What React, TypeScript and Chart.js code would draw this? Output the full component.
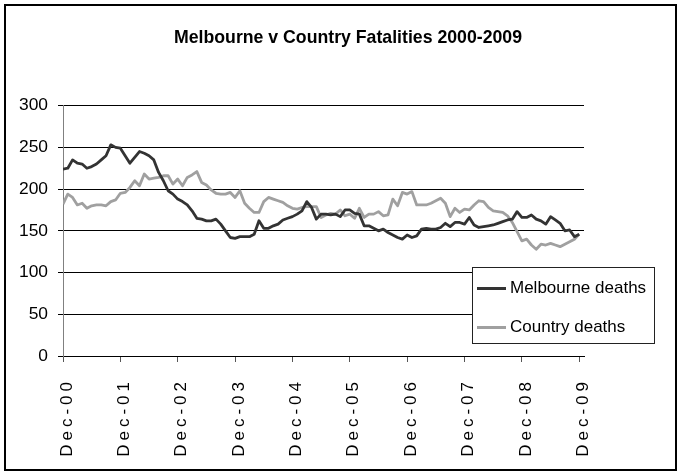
import React, { useEffect, useRef } from 'react';
import { Chart, registerables } from 'chart.js';

Chart.register(...registerables);

const chartTitle = 'Melbourne v Country Fatalities 2000-2009';
const tickLabels = ['Dec-00', 'Dec-01', 'Dec-02', 'Dec-03', 'Dec-04', 'Dec-05', 'Dec-06', 'Dec-07', 'Dec-08', 'Dec-09'];
const yTicks = [0, 50, 100, 150, 200, 250, 300];
const seriesNames = ['Melbourne deaths', 'Country deaths'];

// monthly rolling values, Dec-00 .. Dec-09 (109 months)
const melbourne = [
  224, 225, 235, 231, 230, 225, 227, 230, 235, 240,
  253, 250, 249, 240, 231, 238, 245, 243, 240, 235,
  220, 210, 198, 194, 188, 185, 181, 174, 165, 164,
  162, 162, 164, 158, 150, 142, 141, 143, 143, 143,
  146, 162, 153, 153, 156, 158, 163, 165, 167, 170,
  174, 185, 178, 164, 170, 170, 169, 170, 167, 175,
  175, 171, 170, 156, 156, 153, 150, 152, 148, 145,
  142, 140, 145, 142, 144, 152, 153, 152, 152, 154,
  159, 155, 160, 160, 158, 166, 157, 154, 155, 156,
  157, 159, 161, 163, 164, 173, 166, 166, 169, 164,
  162, 158, 167, 163, 159, 150, 151, 143, 146,
];
const country = [
  182, 194, 190, 181, 183, 177, 180, 181, 181, 180,
  185, 187, 195, 196, 202, 210, 204, 218, 212, 213,
  214, 216, 216, 206, 212, 204, 214, 217, 221, 208,
  205, 199, 195, 194, 194, 196, 190, 198, 183, 177,
  172, 172, 185, 190, 188, 186, 184, 180, 177, 176,
  178, 179, 179, 179, 166, 169, 171, 170, 175, 168,
  170, 165, 177, 166, 170, 170, 173, 168, 169, 188,
  180, 196, 194, 197, 181, 181, 181, 183, 186, 189,
  183, 167, 177, 172, 176, 175, 181, 186, 185, 178,
  174, 173, 172, 168, 160, 149, 138, 140, 133, 128,
  134, 133, 135, 133, 131, 134, 137, 140, 146,
];

const FONT = "'Liberation Sans', Arial, sans-serif";

const decorPlugin = {
  id: 'decor',
  afterDatasetsDraw(chart: any) {
    (chart.ctx as any).letterSpacing = '4px';
  },
  afterDraw(chart: any) {
    const ctx = chart.ctx as any;
    ctx.letterSpacing = '0px';
    ctx.save();
    // outer frame
    ctx.strokeStyle = '#000';
    ctx.lineWidth = 2;
    ctx.strokeRect(5, 5, 671, 465);
    // legend box
    const bx = 472, by = 267, bw = 182, bh = 76;
    ctx.fillStyle = '#fff';
    ctx.fillRect(bx, by, bw, bh);
    ctx.strokeStyle = '#222';
    ctx.lineWidth = 1;
    ctx.strokeRect(bx + 0.5, by + 0.5, bw, bh);
    const rows = [288.5, 327.5];
    chart.data.datasets.forEach((ds: any, i: number) => {
      const y = rows[i];
      ctx.strokeStyle = ds.borderColor;
      ctx.lineWidth = 3;
      ctx.beginPath();
      ctx.moveTo(477, y);
      ctx.lineTo(506, y);
      ctx.stroke();
      ctx.fillStyle = '#000';
      ctx.font = `17px ${FONT}`;
      ctx.textBaseline = 'middle';
      ctx.textAlign = 'left';
      ctx.fillText(ds.label, 510, y);
    });
    ctx.restore();
  },
};

export default function App() {
  const ref = useRef<HTMLCanvasElement>(null);
  useEffect(() => {
    if (!ref.current) return;
    const chart = new Chart(ref.current, {
      type: 'line',
      data: {
        datasets: [
          {
            label: seriesNames[0],
            data: melbourne.map((v, i) => ({ x: i, y: v })),
            borderColor: '#333333',
            borderWidth: 2.8,
            pointRadius: 0,
            tension: 0,
            borderJoinStyle: 'round',
            yAxisID: 'y',
          },
          {
            label: seriesNames[1],
            data: country.map((v, i) => ({ x: i, y: v })),
            borderColor: '#a0a0a0',
            borderWidth: 2.8,
            pointRadius: 0,
            tension: 0,
            borderJoinStyle: 'round',
            yAxisID: 'y',
          },
        ],
      },
      options: {
        responsive: false,
        animation: false,
        devicePixelRatio: 1,
        layout: { padding: { left: 14, right: 0, top: 0, bottom: 0 } },
        plugins: {
          legend: { display: false },
          tooltip: { enabled: false },
          title: {
            display: true,
            text: chartTitle,
            color: '#000',
            font: { family: FONT, size: 17.7, weight: 'bold' },
            padding: { top: 27.4, bottom: 57 },
          },
        },
        scales: {
          x: {
            type: 'linear',
            min: 0,
            max: 109,
            afterBuildTicks: (s: any) => {
              s.ticks = tickLabels.map((_, i) => ({ value: i * 12 }));
            },
            afterFit: (s: any) => {
              s.height = 119;
            },
            ticks: {
              z: 1,
              autoSkip: false,
              minRotation: 90,
              maxRotation: 90,
              padding: 16,
              labelOffset: 4,
              color: '#000',
              font: { family: FONT, size: 17 },
              callback: (v: any) => tickLabels[Math.round(Number(v) / 12)] ?? '',
            },
            grid: { drawOnChartArea: false, drawTicks: true, tickLength: 6, color: '#555' },
            border: { color: '#000', width: 1 },
          },
          y: {
            position: 'left',
            min: 0,
            max: 300,
            afterBuildTicks: (s: any) => {
              s.ticks = yTicks.map((v) => ({ value: v }));
            },
            afterFit: (s: any) => {
              s.width = 49;
            },
            ticks: { color: '#000', padding: 10, font: { family: FONT, size: 17.4 } },
            grid: { color: '#000', lineWidth: 1, tickLength: 5 },
            border: { color: '#808080', width: 1 },
          },
          yR: {
            position: 'right',
            display: true,
            min: 0,
            max: 300,
            ticks: { display: false },
            grid: { display: false, drawOnChartArea: false },
            border: { display: false },
            afterFit: (s: any) => {
              s.width = 98;
            },
          },
        },
      },
      plugins: [decorPlugin],
    } as any);
    return () => chart.destroy();
  }, []);
  return (
    <div style={{ position: 'fixed', left: 0, top: 0, width: 682, height: 475, background: '#fff' }}>
      <canvas ref={ref} width={682} height={475} style={{ display: 'block' }} />
    </div>
  );
}
